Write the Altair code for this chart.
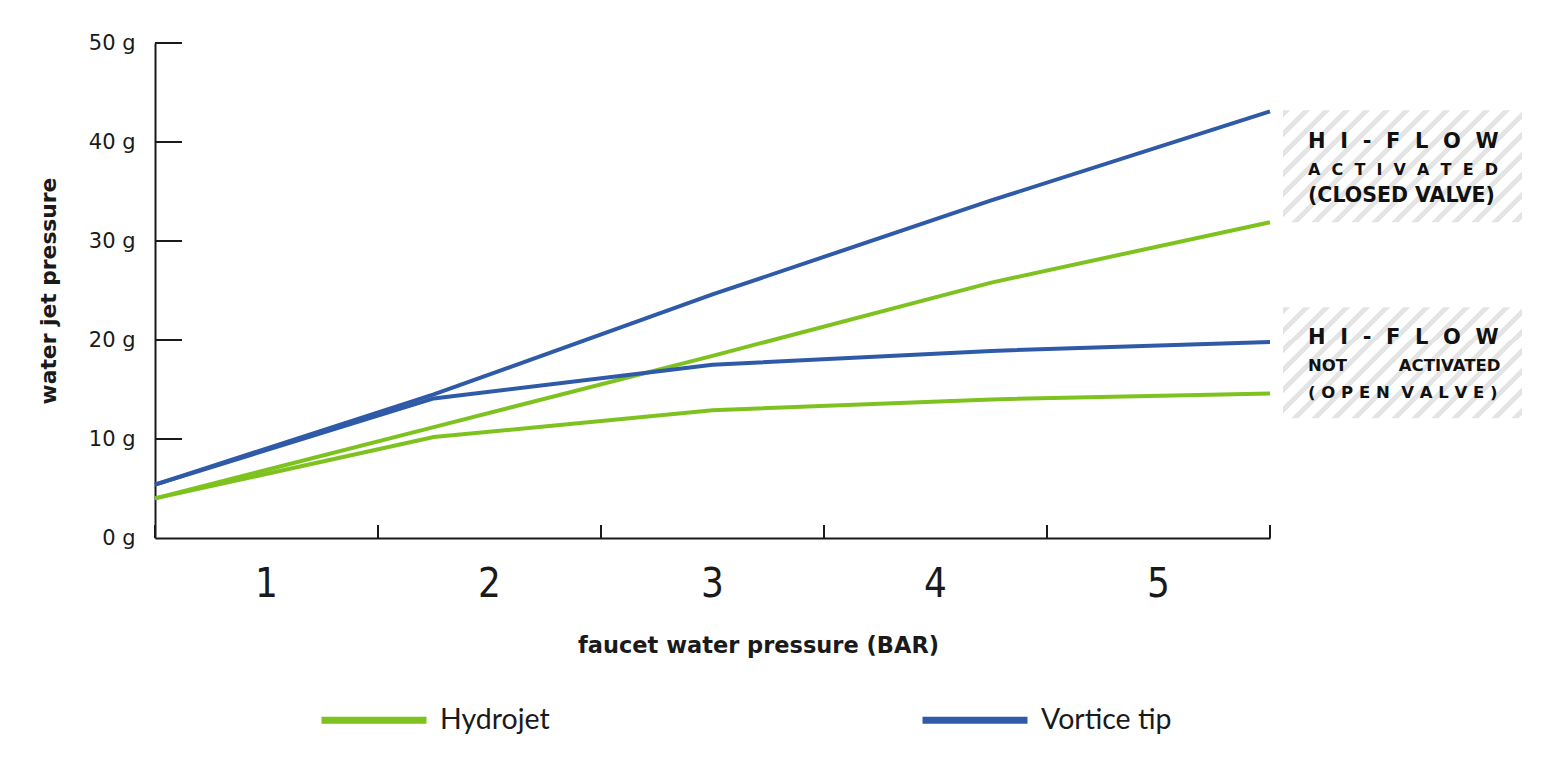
import altair as alt
import pandas as pd

# ---------------- data ----------------
pressure = [1, 2, 3, 4, 5]
hydrojet_open = [4.0, 10.2, 12.9, 14.0, 14.6]
hydrojet_closed = [4.0, 11.2, 18.4, 25.8, 31.9]
vortice_open = [5.4, 14.1, 17.5, 18.9, 19.8]
vortice_closed = [5.4, 14.5, 24.6, 34.1, 43.1]

products = ["Hydrojet", "Vortice tip"]
colors = ["#7dc21e", "#2e5aa7"]

y_ticks = [0, 10, 20, 30, 40, 50]
x_labels = ["1", "2", "3", "4", "5"]

box_names = ["closed", "open"]
box_top = [43.2, 23.3]
box_bottom = [31.9, 12.1]

S = "\u00a0"  # non-collapsing space
closed_lines = [(S * 2).join("HI-FLOW"), (S * 2).join("ACTIVATED"), "(CLOSED VALVE)"]
closed_y = [40.0, 37.2, 34.5]
open_lines = [(S * 2).join("HI-FLOW"), "NOT" + S * 9 + "ACTIVATED", S.join("(OPEN") + S * 2 + S.join("VALVE)")]
open_y = [20.2, 17.4, 14.6]

# ---------------- tables ----------------
rows = []
for prod, mode, vals in [
    ("Hydrojet", "open", hydrojet_open),
    ("Hydrojet", "closed", hydrojet_closed),
    ("Vortice tip", "open", vortice_open),
    ("Vortice tip", "closed", vortice_closed),
]:
    for p, v in zip(pressure, vals):
        rows.append({"pressure": p, "value": v, "product": prod, "mode": mode})
df = pd.DataFrame(rows)

boxes = pd.DataFrame({"name": box_names, "top": box_top, "bottom": box_bottom})
yt = pd.DataFrame({"tick": y_ticks[1:]})
xb = pd.DataFrame({"bar": x_labels})

INK = "#1a1a1a"
FONT = "DejaVu Sans"
LIGHT = "Lato"

# hatch gradient (diagonal stripes)
BW, BH = 239.0, 112.0
period = 20.0
gray_w = 7.0
span = BW + BH
stops = []
c = 0.0
while c < span:
    o1 = c / span
    o2 = min((c + gray_w) / span, 1.0)
    o3 = min((c + period) / span, 1.0)
    stops += [
        alt.GradientStop(color="#e4e4e4", offset=o1),
        alt.GradientStop(color="#e4e4e4", offset=o2),
        alt.GradientStop(color="#ffffff", offset=o2),
        alt.GradientStop(color="#ffffff", offset=o3),
    ]
    c += period
r = BH / BW
gx = (1 + r) / (1 + r * r)
gy = r * gx
hatch = alt.Gradient(gradient="linear", stops=stops, x1=0, y1=0, x2=gx, y2=gy)

xq = alt.Scale(domain=[1, 5], nice=False, zero=False)
yq = alt.Scale(domain=[0, 50], nice=False, zero=True)

lines = alt.Chart(df).mark_line(strokeWidth=4, clip=False).encode(
    x=alt.X("pressure:Q", scale=xq, axis=None),
    y=alt.Y(
        "value:Q",
        scale=yq,
        axis=alt.Axis(
            values=y_ticks,
            labelExpr="datum.value + ' g'",
            ticks=False,
            tickSize=0,
            grid=False,
            domainColor=INK,
            domainWidth=2,
            labelFont=FONT,
            labelFontSize=21,
            labelColor=INK,
            labelPadding=20,
            title="water jet pressure",
            titleFont=FONT,
            titleFontSize=21.8,
            titleFontWeight="bold",
            titleColor=INK,
            titlePadding=28,
        ),
    ),
    color=alt.Color(
        "product:N",
        scale=alt.Scale(domain=products, range=colors),
        legend=alt.Legend(
            orient="none",
            legendX=163,
            legendY=621,
            direction="horizontal",
            columns=2,
            columnPadding=358,
            symbolType="stroke",
            symbolSize=11025,
            symbolStrokeWidth=7,
            labelFont=LIGHT,
            labelFontSize=28.5,
            labelColor=INK,
            labelOffset=10,
            title=None,
        ),
    ),
    detail="mode:N",
)

yticks = alt.Chart(yt).mark_rule(color=INK, strokeWidth=2, x2Offset=27).encode(
    x=alt.XDatum(1, scale=xq, axis=None),
    x2=alt.X2Datum(1),
    y=alt.Y("tick:Q", scale=yq),
)

rects = alt.Chart(boxes).mark_rect(fill=hatch, xOffset=13, x2Offset=252, clip=False).encode(
    x=alt.XDatum(5, scale=xq, axis=None),
    x2=alt.X2Datum(5),
    y=alt.Y("top:Q", scale=yq),
    y2="bottom:Q",
)

def note(text, yval, size):
    return alt.Chart(pd.DataFrame({"text": [text], "y": [yval]})).mark_text(
        align="left", baseline="middle", dx=38, font=FONT,
        fontWeight="bold", fontSize=size, color="#111111",
    ).encode(
        x=alt.XDatum(5, scale=xq, axis=None),
        y=alt.Y("y:Q", scale=yq),
        text="text:N",
    )

note_sizes = [21, 16, 20.5]
open_sizes = [21, 16.5, 16.5]
notes = [note(t, y, s) for t, y, s in zip(closed_lines, closed_y, note_sizes)]
notes += [note(t, y, s) for t, y, s in zip(open_lines, open_y, open_sizes)]

group_a = alt.layer(lines, yticks, rects, *notes)

band = alt.Scale(type="band", paddingInner=0, paddingOuter=0)
xaxis = alt.Axis(
    orient="bottom",
    ticks=False,
    tickSize=0,
    grid=False,
    labelAngle=0,
    labelFont="'DejaVu Sans Condensed', 'Liberation Sans Narrow', 'Open Sans', sans-serif",
    labelFontWeight=300,
    labelFontSize=40,
    labelColor=INK,
    labelPadding=26,
    domainColor=INK,
    domainWidth=2,
    title="faucet water pressure (BAR)",
    titleFont=FONT,
    titleFontSize=22.5,
    titleFontWeight="bold",
    titleColor=INK,
    titlePadding=30,
    titleX=603,
)
xticks = alt.Chart(xb).mark_rule(color=INK, strokeWidth=2, y2Offset=-13).encode(
    x=alt.X("bar:O", bandPosition=0, scale=band, axis=xaxis),
    y=alt.YDatum(0, scale=yq),
    y2=alt.Y2Datum(0),
)
xend = alt.Chart(xb).transform_filter(alt.datum.bar == x_labels[-1]).mark_rule(
    color=INK, strokeWidth=2, y2Offset=-13
).encode(
    x=alt.X("bar:O", bandPosition=1, scale=band, axis=xaxis),
    y=alt.YDatum(0, scale=yq),
    y2=alt.Y2Datum(0),
)
group_b = alt.layer(xticks, xend)

chart = (
    alt.layer(group_a, group_b)
    .resolve_scale(x="independent")
    .properties(
        width=1115,
        height=495,
        padding={"left": 30, "top": 24, "right": 5, "bottom": 5},
    )
    .configure(
        background="white",
        view=alt.ViewConfig(stroke="transparent", strokeWidth=0),
    )
)

chart.save("out.html", embed_options={"renderer": "svg", "actions": False})
